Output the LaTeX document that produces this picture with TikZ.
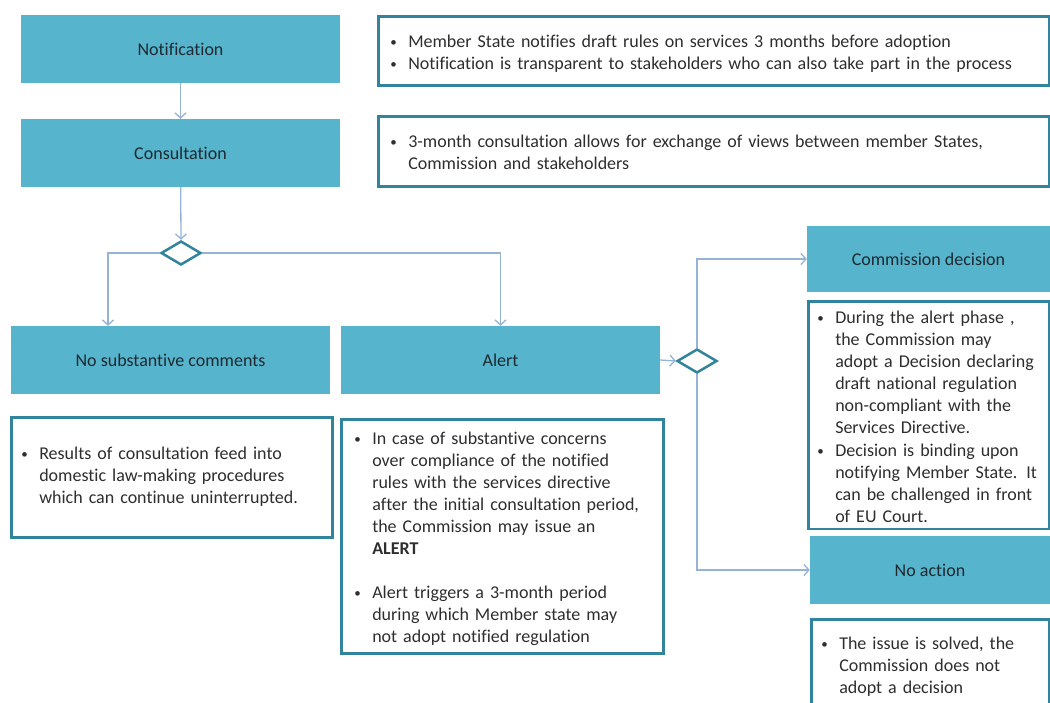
\documentclass[tikz,border=0pt]{standalone}
\usepackage{fontspec}
\setmainfont{Carlito}[Ligatures={NoCommon}]
\usetikzlibrary{shapes.geometric,arrows.meta}
\definecolor{tealfill}{HTML}{56B4CD}
\definecolor{tealline}{HTML}{31849B}
\definecolor{arrowblue}{HTML}{95B3D7}
\definecolor{txtdark}{HTML}{1E2A30}
\definecolor{txtgrey}{HTML}{2E2E2E}
\newcommand\bitem[1]{\par\noindent\makebox[18pt][l]{\raisebox{1pt}{\fontsize{13}{13}\selectfont\textbullet}}\begin{tabular}[t]{@{}l@{}}#1\end{tabular}\par}
\tikzset{
  stage/.style={fill=tealfill, draw=none, text=txtdark, minimum height=68pt, inner sep=0pt, font=\fontsize{18}{22}\selectfont},
  info/.style={draw=tealline, line width=2.5pt, fill=white, text=txtgrey, inner xsep=12pt, inner ysep=0pt, font=\fontsize{18}{22}\selectfont, anchor=north west},
  decide/.style={diamond, draw=tealline, line width=2.5pt, fill=white, minimum width=40pt, minimum height=24pt, inner sep=0pt, aspect=1.667},
  flow/.style={draw=arrowblue, line width=1.3pt, -{Straight Barb[length=5pt,width=11pt]}},
}
\begin{document}
\begin{tikzpicture}[x=1pt,y=-1pt]
\useasboundingbox[fill=white] (0,0) rectangle (1050,702);

% stages
\node[stage, minimum width=319pt] (notif) at (180.5,49) {Notification};
\node[stage, minimum width=319pt] (consult) at (180.5,153) {Consultation};
\node[stage, minimum width=319pt] (nosub) at (170.5,360) {No substantive comments};
\node[stage, minimum width=319pt] (alert) at (500.5,360) {Alert};
\node[stage, minimum width=243pt, minimum height=66pt] (cd) at (928.5,259) {Commission decision};
\node[stage, minimum width=240pt] (na) at (930,570) {No action};

% decisions
\node[decide] (d1) at (181,253) {};
\node[decide] (d2) at (697,361) {};

% info boxes
\node[info, minimum width=671pt, minimum height=69pt, inner xsep=12pt, text width=647pt] (i1) at (377,15)
 {\bitem{Member State notifies draft rules on services 3 months before adoption}
  \bitem{Notification is transparent to stakeholders who can also take part in the process}};
\node[info, minimum width=671pt, minimum height=70pt, inner xsep=12pt, text width=647pt] (i2) at (377,115)
 {\bitem{3-month consultation allows for exchange of views between member States,\\Commission and stakeholders}};
\node[info, minimum width=321pt, minimum height=120pt, inner xsep=10pt, text width=301pt] (i3) at (10,416)
 {\bitem{Results of consultation feed into\\domestic law-making procedures\\which can continue uninterrupted.}\vspace{6pt}};
\node[info, minimum width=322pt, minimum height=234pt, inner xsep=13pt, text width=296pt] (i4) at (340,418)
 {\bitem{In case of substantive concerns\\over compliance of the notified\\rules with the services directive\\after the initial consultation period,\\the Commission may issue an\\\textbf{ALERT}}
  \vspace{21pt}
  \bitem{Alert triggers a 3-month period\\during which Member state may\\not adopt notified regulation}};
\node[info, minimum width=241pt, minimum height=225pt, inner xsep=9pt, text width=223pt] (i5) at (807,300)
 {\bitem{During the alert phase ,\\the Commission may\\adopt a Decision declaring\\draft national regulation\\non-compliant with the\\Services Directive.}
  \bitem{Decision is binding upon\\notifying Member State. It\\can be challenged in front\\of EU Court.}};
\node[info, minimum width=238pt, minimum height=90pt, inner xsep=10pt, text width=218pt] (i6) at (810,618)
 {\bitem{The issue is solved, the\\Commission does not\\adopt a decision}};

% connectors
\draw[flow] (notif) -- (consult);
\draw[flow] (consult) -- (d1.north);
\draw[flow] (d1.west) -| ([xshift=-62.5pt]nosub.north);
\draw[flow] (d1.east) -| (alert.north);
\draw[flow] (alert.east) -- (d2.west);
\draw[flow] (d2.north) |- (cd.west);
\draw[flow] (d2.south) |- (na.west);
\end{tikzpicture}
\end{document}
